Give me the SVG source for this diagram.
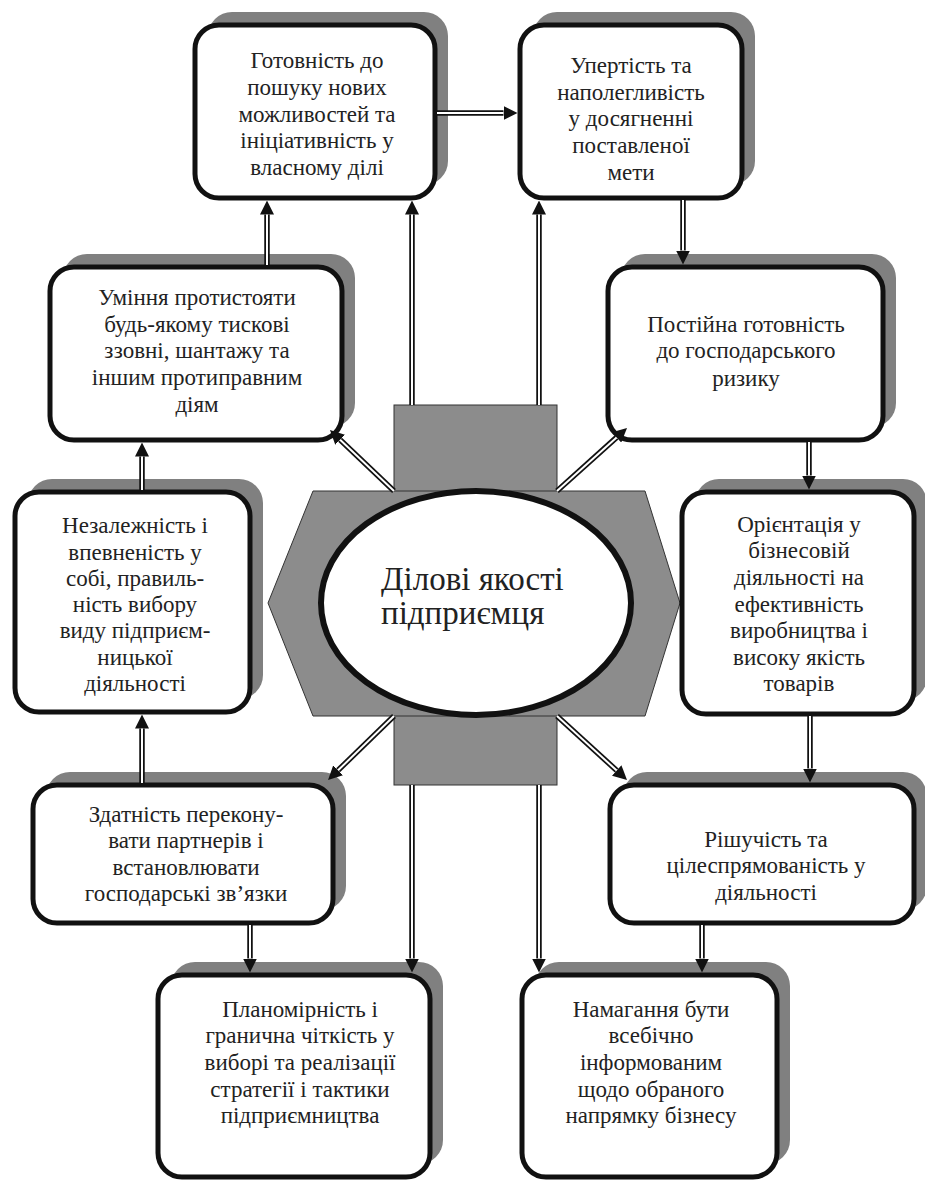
<svg xmlns="http://www.w3.org/2000/svg" width="925" height="1181" viewBox="0 0 925 1181">
<style>
.sh{fill:#808080}
.bx{fill:#fff;stroke:#111;stroke-width:5}
.co{fill:none;stroke:#111;stroke-width:5.5}
.ci{fill:none;stroke:#fff;stroke-width:2}
.gr{fill:#8c8c8c;stroke:#333;stroke-width:1}
</style>
<defs>
<marker id="ah" markerUnits="userSpaceOnUse" markerWidth="14" markerHeight="14" viewBox="0 0 14 14" refX="0" refY="7" orient="auto">
<path d="M0,0 L14,7 L0,14 z" fill="#111"/>
</marker>
</defs>
<rect width="925" height="1181" fill="#fff"/>

<g id="center">
<rect class="gr" x="394" y="405" width="163" height="380"/>
<polygon class="gr" points="313,491 645,491 680,603 645,716 313,716 268,603"/>
<ellipse cx="476" cy="603" rx="155" ry="112" fill="#fff" stroke="#111" stroke-width="6"/>
<text x="381" y="590" font-family="Liberation Serif, Times New Roman, serif" font-size="33" fill="#222">Ділові якості</text>
<text x="381" y="624" font-family="Liberation Serif, Times New Roman, serif" font-size="33" fill="#222">підприємця</text>
</g>

<g id="nodes" font-family="Liberation Serif, Times New Roman, serif" font-size="23" text-anchor="middle" fill="#222">
<g id="n1">
<rect class="sh" x="208" y="12" width="240" height="173" rx="24"/>
<rect class="bx" x="195" y="25" width="240" height="173" rx="24"/>
<text x="317" y="68">Готовність до</text>
<text x="317" y="95">пошуку нових</text>
<text x="317" y="122">можливостей та</text>
<text x="317" y="148">ініціативність у</text>
<text x="317" y="175">власному ділі</text>
</g>

<g id="n2">
<rect class="sh" x="533" y="12" width="222" height="173" rx="24"/>
<rect class="bx" x="520" y="25" width="222" height="173" rx="24"/>
<text x="631" y="73">Упертість та</text>
<text x="631" y="100">наполегливість</text>
<text x="631" y="126">у досягненні</text>
<text x="631" y="153">поставленої</text>
<text x="631" y="180">мети</text>
</g>

<g id="n3">
<rect class="sh" x="63" y="254" width="292" height="173" rx="24"/>
<rect class="bx" x="50" y="267" width="292" height="173" rx="24"/>
<text x="197" y="305">Уміння протистояти</text>
<text x="197" y="332">будь-якому тискові</text>
<text x="197" y="358">ззовні, шантажу та</text>
<text x="197" y="385">іншим протиправним</text>
<text x="197" y="412">діям</text>
</g>

<g id="n4">
<rect class="sh" x="621" y="254" width="275" height="173" rx="24"/>
<rect class="bx" x="608" y="267" width="275" height="173" rx="24"/>
<text x="746" y="332">Постійна готовність</text>
<text x="746" y="358">до господарського</text>
<text x="746" y="386">ризику</text>
</g>

<g id="n5">
<rect class="sh" x="28" y="479" width="235" height="220" rx="24"/>
<rect class="bx" x="15" y="492" width="235" height="220" rx="24"/>
<text x="135" y="533">Незалежність і</text>
<text x="135" y="560">впевненість у</text>
<text x="135" y="586">собі, правиль-</text>
<text x="135" y="612">ність вибору</text>
<text x="135" y="638">виду підприєм-</text>
<text x="135" y="665">ницької</text>
<text x="135" y="691">діяльності</text>
</g>

<g id="n6">
<rect class="sh" x="695" y="479" width="232" height="222" rx="24"/>
<rect class="bx" x="682" y="492" width="232" height="222" rx="24"/>
<text x="799" y="532">Орієнтація у</text>
<text x="799" y="558">бізнесовій</text>
<text x="799" y="585">діяльності на</text>
<text x="799" y="612">ефективність</text>
<text x="799" y="638">виробництва і</text>
<text x="799" y="665">високу якість</text>
<text x="799" y="691">товарів</text>
</g>

<g id="n7">
<rect class="sh" x="46" y="772" width="300" height="138" rx="24"/>
<rect class="bx" x="33" y="785" width="300" height="138" rx="24"/>
<text x="186" y="822">Здатність перекону-</text>
<text x="186" y="848">вати партнерів і</text>
<text x="186" y="875">встановлювати</text>
<text x="186" y="901">господарські зв’язки</text>
</g>

<g id="n8">
<rect class="sh" x="623" y="772" width="304" height="138" rx="24"/>
<rect class="bx" x="610" y="785" width="304" height="138" rx="24"/>
<text x="766" y="847">Рішучість та</text>
<text x="766" y="873">цілеспрямованість у</text>
<text x="766" y="900">діяльності</text>
</g>

<g id="n9">
<rect class="sh" x="171" y="962" width="272" height="202" rx="24"/>
<rect class="bx" x="158" y="975" width="272" height="202" rx="24"/>
<text x="300" y="1017">Планомірність і</text>
<text x="300" y="1043">гранична чіткість у</text>
<text x="300" y="1070">виборі та реалізації</text>
<text x="300" y="1097">стратегії і тактики</text>
<text x="300" y="1123">підприємництва</text>
</g>

<g id="n10">
<rect class="sh" x="535" y="962" width="255" height="202" rx="24"/>
<rect class="bx" x="522" y="975" width="255" height="202" rx="24"/>
<text x="651" y="1017">Намагання бути</text>
<text x="651" y="1043">всебічно</text>
<text x="651" y="1070">інформованим</text>
<text x="651" y="1097">щодо обраного</text>
<text x="651" y="1123">напрямку бізнесу</text>
</g>
</g>

<g id="connectors">
<path class="co" marker-end="url(#ah)" d="M437,113 H503.5"/><path class="ci" d="M437,113 H503.5"/>
<path class="co" marker-end="url(#ah)" d="M683,200 V250.5"/><path class="ci" d="M683,200 V250.5"/>
<path class="co" marker-end="url(#ah)" d="M809,442 V475.5"/><path class="ci" d="M809,442 V475.5"/>
<path class="co" marker-end="url(#ah)" d="M810,716 V768.5"/><path class="ci" d="M810,716 V768.5"/>
<path class="co" marker-end="url(#ah)" d="M702,925 V958.5"/><path class="ci" d="M702,925 V958.5"/>
<path class="co" marker-end="url(#ah)" d="M250,925 V958.5"/><path class="ci" d="M250,925 V958.5"/>
<path class="co" marker-end="url(#ah)" d="M142,783 V728.5"/><path class="ci" d="M142,783 V728.5"/>
<path class="co" marker-end="url(#ah)" d="M142,490 V456.5"/><path class="ci" d="M142,490 V456.5"/>
<path class="co" marker-end="url(#ah)" d="M267,265 V214.5"/><path class="ci" d="M267,265 V214.5"/>
<path class="co" marker-end="url(#ah)" d="M412,405 V214.5"/><path class="ci" d="M412,405 V214.5"/>
<path class="co" marker-end="url(#ah)" d="M539,405 V214.5"/><path class="ci" d="M539,405 V214.5"/>
<path class="co" marker-end="url(#ah)" d="M412,785 V958.5"/><path class="ci" d="M412,785 V958.5"/>
<path class="co" marker-end="url(#ah)" d="M539,785 V958.5"/><path class="ci" d="M539,785 V958.5"/>
<path class="co" marker-end="url(#ah)" d="M394,491 L340.1,439.7"/><path class="ci" d="M394,491 L340.1,439.7"/>
<path class="co" marker-end="url(#ah)" d="M557,491 L616.6,437.4"/><path class="ci" d="M557,491 L616.6,437.4"/>
<path class="co" marker-end="url(#ah)" d="M394,716 L338.1,770.3"/><path class="ci" d="M394,716 L338.1,770.3"/>
<path class="co" marker-end="url(#ah)" d="M557,716 L616.7,770.5"/><path class="ci" d="M557,716 L616.7,770.5"/>
</g>
</svg>
